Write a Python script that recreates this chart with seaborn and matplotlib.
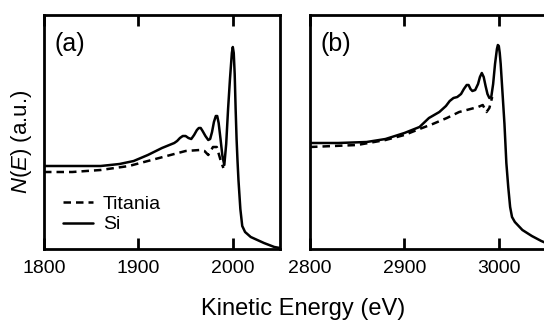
import numpy as np
import pandas as pd
import seaborn as sns
import matplotlib
matplotlib.use("Agg")
import matplotlib.pyplot as plt

# ---- data (arbitrary units) ----
energy_a_si = [1800, 1830, 1860, 1880, 1895, 1910, 1925, 1938, 1941, 1944, 1947, 1950, 1953, 1956,
               1959, 1962, 1964, 1966, 1968, 1971, 1974, 1976, 1978, 1980, 1982, 1983.5, 1985, 1987,
               1989, 1991, 1993, 1995, 1997, 1999, 2000, 2001, 2002, 2003, 2004, 2005, 2006, 2008,
               2010, 2013, 2019, 2033, 2044, 2050]
n_a_si = [83, 83, 83, 85, 88, 94, 101, 106, 108, 111, 113, 113, 111, 110,
          114, 119, 121, 121, 118, 113, 109, 110, 117, 127, 133, 133, 126, 110,
          93, 84, 105, 140, 170, 196, 202, 196, 175, 140, 110, 88, 69, 40,
          23, 17, 12, 6, 2, 1]

energy_a_ti = [1800, 1830, 1860, 1890, 1910, 1930, 1950, 1965, 1970, 1974, 1979, 1983, 1987, 1990]
n_a_ti = [77, 77, 79, 83, 88, 93, 98, 99, 98, 94, 102, 102, 89, 81]

energy_b_si = [2800, 2830, 2860, 2880, 2900, 2916, 2926, 2937, 2944, 2948, 2952, 2956, 2960, 2963,
               2966, 2968, 2970, 2972, 2975, 2978, 2980, 2982, 2984, 2986, 2988, 2990, 2992, 2994,
               2996, 2998, 2999, 3000, 3001, 3002, 3003, 3004, 3005, 3006, 3008, 3010, 3012, 3014,
               3017, 3025, 3035, 3045, 3050]
n_b_si = [106, 106, 107, 110, 116, 122, 131, 137, 143, 148, 151, 152, 155, 160,
          164, 164, 160, 158, 159, 165, 172, 176, 172, 163, 155, 151, 152, 165,
          185, 200, 204, 203, 196, 185, 170, 155, 140, 125, 86, 62, 42, 32,
          27, 19, 13, 8, 6]

energy_b_ti = [2800, 2850, 2880, 2900, 2916, 2930, 2945, 2958, 2970, 2978, 2983, 2987, 2990, 2993]
n_b_ti = [102, 104, 109, 114, 120, 125, 131, 137, 140, 142, 144, 137, 141, 152]

samples = ["Titania", "Si"]
xticks_a = [1800, 1900, 2000]
xticks_b = [2800, 2900, 3000]
panel_labels = ["(a)", "(b)"]

def frame(e_ti, n_ti, e_si, n_si):
    return pd.concat([
        pd.DataFrame({"E": e_ti, "N": n_ti, "Sample": "Titania"}),
        pd.DataFrame({"E": e_si, "N": n_si, "Sample": "Si"}),
    ], ignore_index=True)

df_a = frame(energy_a_ti, n_a_ti, energy_a_si, n_a_si)
df_b = frame(energy_b_ti, n_b_ti, energy_b_si, n_b_si)

sns.set_theme(style="white")
plt.rcParams["font.family"] = ["Liberation Sans", "DejaVu Sans"]
plt.rcParams["mathtext.fontset"] = "custom"
plt.rcParams["mathtext.it"] = "Liberation Sans:italic"
plt.rcParams["mathtext.rm"] = "Liberation Sans"
plt.rcParams["text.color"] = "black"
plt.rcParams["axes.labelcolor"] = "black"
plt.rcParams["xtick.color"] = "black"
plt.rcParams["xtick.labelcolor"] = "black"

fig = plt.figure(figsize=(5.44, 3.2), dpi=100)
ax_a = fig.add_axes([44/544, 71/320, 236/544, 234/320])
ax_b = fig.add_axes([310/544, 71/320, 236/544, 234/320])

dashes = {"Titania": (3, 2), "Si": ""}
for ax, df, xlim, ticks, lab in [(ax_a, df_a, (1800, 2050), xticks_a, panel_labels[0]),
                                 (ax_b, df_b, (2800, 3050), xticks_b, panel_labels[1])]:
    sns.lineplot(data=df, x="E", y="N", style="Sample", style_order=samples, dashes=dashes,
                 color="black", linewidth=1.8, estimator=None, ax=ax, legend=(ax is ax_a))
    ax.set_xlim(*xlim)
    ax.set_ylim(0, 234)
    ax.set_xticks(ticks)
    ax.set_yticks([])
    ax.set_xlabel("")
    ax.set_ylabel("")
    ax.tick_params(axis="x", direction="in", top=True, bottom=True, length=8, width=2,
                   labelsize=14, pad=8, colors="black")
    for s in ax.spines.values():
        s.set_linewidth(2)
        s.set_color("black")
    ax.text(0.045, 0.878, lab, transform=ax.transAxes, fontsize=18, ha="left", va="center")

leg = ax_a.legend(loc="lower left", bbox_to_anchor=(0.08, 0.067), frameon=False,
                  handlelength=1.55, handletextpad=0.5, labelspacing=0.15, borderaxespad=0,
                  borderpad=0, fontsize=14)

fig.text(303.5/544, 1 - 315/320, "Kinetic Energy (eV)", ha="center", va="baseline", fontsize=17)
fig.text(21/544, 1 - 141.5/320, "$N$($E$) (a.u.)", ha="center", va="center", rotation=90, fontsize=16)

fig.savefig("out.png", dpi=100)
